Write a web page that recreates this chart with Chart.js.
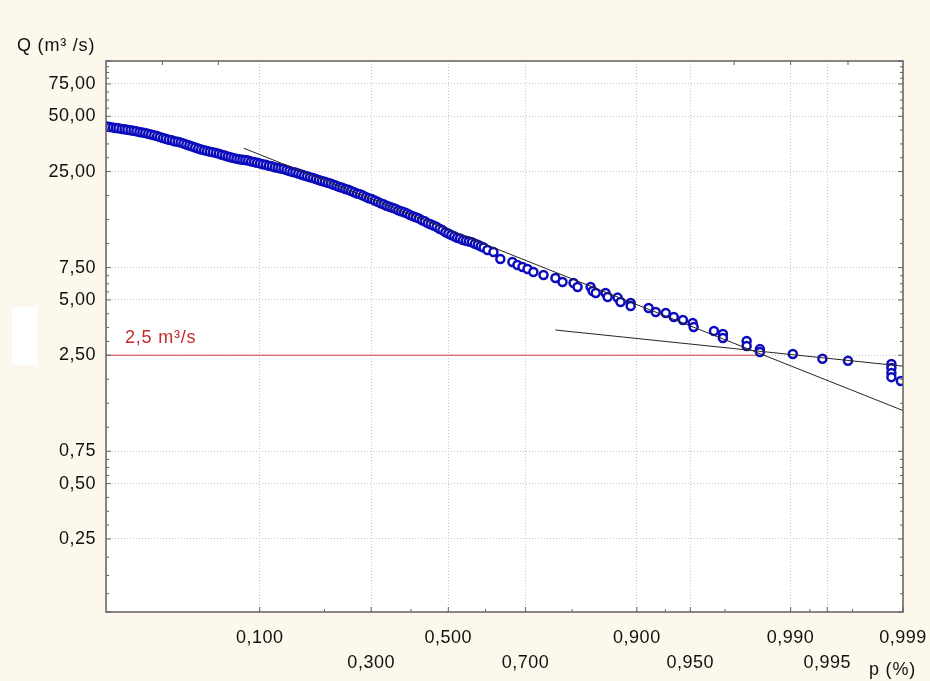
<!DOCTYPE html>
<html>
<head>
<meta charset="utf-8">
<script src="https://cdn.jsdelivr.net/npm/chart.js@4.4.1/dist/chart.umd.min.js"></script>
<style>
	html, body { margin: 0; padding: 0; background: #fcf8ec; }
	#wrap { position: relative; width: 930px; height: 681px; }
</style>
</head>
<body>
<div id="wrap"><canvas id="myChart"></canvas></div>
<script>
// exceedance probability p and discharge Q (m3/s)
const pObs = [
	0.0102, 0.0107, 0.0113, 0.0119, 0.0125, 0.0132, 0.0139, 0.0146, 0.0154, 0.0162,
	0.0170, 0.0179, 0.0188, 0.0197, 0.0207, 0.0217, 0.0228, 0.0239, 0.0250, 0.0262,
	0.0274, 0.0287, 0.0301, 0.0314, 0.0329, 0.0344, 0.0359, 0.0375, 0.0392, 0.0409,
	0.0427, 0.0446, 0.0465, 0.0485, 0.0505, 0.0526, 0.0548, 0.0571, 0.0594, 0.0618,
	0.0643, 0.0668, 0.0694, 0.0721, 0.0749, 0.0778, 0.0808, 0.0838, 0.0869, 0.0901,
	0.0934, 0.0968, 0.1003, 0.1038, 0.1075, 0.1112, 0.1151, 0.1190, 0.1230, 0.1271,
	0.1314, 0.1357, 0.1401, 0.1446, 0.1492, 0.1539, 0.1587, 0.1635, 0.1685, 0.1736,
	0.1788, 0.1841, 0.1894, 0.1949, 0.2005, 0.2061, 0.2119, 0.2177, 0.2236, 0.2296,
	0.2358, 0.2420, 0.2483, 0.2546, 0.2611, 0.2676, 0.2743, 0.2810, 0.2877, 0.2946,
	0.3015, 0.3085, 0.3156, 0.3228, 0.3300, 0.3372, 0.3446, 0.3520, 0.3594, 0.3669,
	0.3745, 0.3821, 0.3897, 0.3974, 0.4052, 0.4129, 0.4207, 0.4286, 0.4364, 0.4443,
	0.4522, 0.4602, 0.4681, 0.4761, 0.4840, 0.4920, 0.5000, 0.5080, 0.5160, 0.5239,
	0.5319, 0.5398, 0.5478, 0.5557, 0.5636, 0.5714, 0.5793, 0.5871, 0.5948, 0.6048,
	0.6205, 0.6382, 0.6684, 0.6807, 0.6929, 0.7048, 0.7185, 0.7412, 0.7667, 0.7812,
	0.8026, 0.8101, 0.8332, 0.8367, 0.8418, 0.8574, 0.8606, 0.8750, 0.8791, 0.8924,
	0.8924, 0.9133, 0.9207, 0.9303, 0.9373, 0.9446, 0.9516, 0.9523, 0.9645, 0.9690,
	0.9690, 0.9787, 0.9787, 0.9829, 0.9829, 0.9904, 0.9945, 0.9967, 0.9987, 0.9987,
	0.9987, 0.9987, 0.99895
];
const qObs = [
	44.0, 43.7, 43.5, 43.2, 43.0, 42.7, 42.5, 42.2, 42.0, 41.7,
	41.4, 41.1, 40.8, 40.5, 40.2, 39.8, 39.4, 39.0, 38.6, 38.1,
	37.7, 37.3, 37.0, 36.6, 36.3, 36.0, 35.6, 35.1, 34.7, 34.2,
	33.8, 33.4, 33.0, 32.7, 32.4, 32.1, 31.9, 31.6, 31.3, 30.9,
	30.6, 30.2, 29.9, 29.6, 29.4, 29.2, 29.0, 28.9, 28.7, 28.4,
	28.2, 27.9, 27.7, 27.4, 27.2, 26.9, 26.7, 26.4, 26.2, 26.0,
	25.8, 25.5, 25.2, 24.9, 24.7, 24.4, 24.1, 23.8, 23.6, 23.3,
	23.1, 22.8, 22.5, 22.2, 22.0, 21.7, 21.5, 21.2, 20.9, 20.6,
	20.4, 20.1, 19.9, 19.6, 19.3, 19.0, 18.8, 18.5, 18.2, 17.9,
	17.7, 17.4, 17.1, 16.8, 16.6, 16.3, 16.1, 15.9, 15.7, 15.4,
	15.2, 15.0, 14.8, 14.5, 14.3, 14.1, 13.9, 13.6, 13.4, 13.1,
	12.9, 12.7, 12.5, 12.2, 12.0, 11.7, 11.5, 11.3, 11.1, 10.9,
	10.8, 10.6, 10.5, 10.4, 10.3, 10.1, 10.0, 9.80, 9.65, 9.35,
	9.12, 8.36, 8.05, 7.75, 7.56, 7.37, 7.10, 6.84, 6.59, 6.26,
	6.18, 5.88, 5.88, 5.59, 5.46, 5.46, 5.19, 5.15, 4.87, 4.81,
	4.63, 4.52, 4.30, 4.25, 4.04, 3.89, 3.75, 3.56, 3.39, 3.26,
	3.10, 2.99, 2.81, 2.70, 2.60, 2.54, 2.39, 2.33, 2.24, 2.13,
	2.00, 1.90, 1.81
];

// fitted straight lines (on probability paper) and the 2,5 m3/s threshold
const fitUpperP = [0.0822, 0.999];
const fitUpperQ = [33.5, 1.25];
const fitLowerP = [0.7667, 0.999];
const fitLowerQ = [3.43, 2.18];
const limitP = [0.01, 0.9824];
const limitQ = [2.5, 2.5];

const xTickP = [0.1, 0.3, 0.5, 0.7, 0.9, 0.95, 0.99, 0.995, 0.999];
const xTickLabels = ["0,100", "0,300", "0,500", "0,700", "0,900", "0,950", "0,990", "0,995", "0,999"];
const xMinorP = [0.2, 0.4, 0.6, 0.8, 0.93, 0.97, 0.993, 0.997];
const xTopP = [0.026, 0.059, 0.974, 0.99, 0.9967];
const yTicks = [75, 50, 25, 7.5, 5, 2.5, 0.75, 0.5, 0.25];
const yTickLabels = ["75,00", "50,00", "25,00", "7,50", "5,00", "2,50", "0,75", "0,50", "0,25"];

// inverse normal cdf (Acklam)
function probit(p) {
	const a = [-39.69683028665376, 220.9460984245205, -275.9285104469687, 138.3577518672690, -30.66479806614716, 2.506628277459239];
	const b = [-54.47609879822406, 161.5858368580409, -155.6989798598866, 66.80131188771972, -13.28068155288572];
	const c = [-0.007784894002430293, -0.3223964580411365, -2.400758277161838, -2.549732539343734, 4.374664141464968, 2.938163982698783];
	const d = [0.007784695709041462, 0.3224671290700398, 2.445134137142996, 3.754408661907416];
	const lo = 0.02425;
	let q, r;
	if (p < lo) {
		q = Math.sqrt(-2 * Math.log(p));
		return (((((c[0] * q + c[1]) * q + c[2]) * q + c[3]) * q + c[4]) * q + c[5]) / ((((d[0] * q + d[1]) * q + d[2]) * q + d[3]) * q + 1);
	}
	if (p > 1 - lo) {
		q = Math.sqrt(-2 * Math.log(1 - p));
		return -(((((c[0] * q + c[1]) * q + c[2]) * q + c[3]) * q + c[4]) * q + c[5]) / ((((d[0] * q + d[1]) * q + d[2]) * q + d[3]) * q + 1);
	}
	q = p - 0.5;
	r = q * q;
	return ((((((a[0] * r + a[1]) * r + a[2]) * r + a[3]) * r + a[4]) * r + a[5]) * q) / (((((b[0] * r + b[1]) * r + b[2]) * r + b[3]) * r + b[4]) * r + 1);
}

function normCdf(z) {
	const t = 1 / (1 + 0.2316419 * Math.abs(z));
	const y = 0.3989423 * Math.exp((-z * z) / 2) * t * (0.3193815 + t * (-0.3565638 + t * (1.781478 + t * (-1.821256 + t * 1.330274))));
	return z > 0 ? 1 - y : y;
}

// normal probability axis
class ProbabilityScale extends Chart.LinearScale {
	static id = "probability";
	static defaults = {};
	buildTicks() {
		return [];
	}
	configure() {
		super.configure();
		this._startValue = probit(this.min);
		this._endValue = probit(this.max);
		this._valueRange = this._endValue - this._startValue;
	}
	getPixelForValue(value) {
		if (value === null || value === undefined) return NaN;
		return this.getPixelForDecimal((probit(value) - this._startValue) / this._valueRange);
	}
	getValueForPixel(pixel) {
		return normCdf(this._startValue + this.getDecimalForPixel(pixel) * this._valueRange);
	}
}
Chart.register(ProbabilityScale);

const FONT = '"Liberation Sans", Arial, sans-serif';

const decor = {
	id: "decor",
	beforeDraw(chart) {
		const { ctx, chartArea: a } = chart;
		ctx.save();
		ctx.fillStyle = "#ffffff";
		ctx.fillRect(a.left, a.top, a.right - a.left, a.bottom - a.top);
		ctx.fillRect(12, 307, 25, 58);
		ctx.restore();
		ctx.letterSpacing = "0.5px";
	},
	afterDraw(chart) {
		const { ctx, chartArea: a } = chart;
		const x = chart.scales.x;
		const y = chart.scales.y;
		ctx.save();
		ctx.strokeStyle = "#606060";
		ctx.lineWidth = 1;
		ctx.beginPath();
		// inward tick marks
		const yMajor = [100].concat(yTicks, [0.1]);
		for (let i = 0; i < yMajor.length; i++) {
			const py = y.getPixelForValue(yMajor[i]);
			ctx.moveTo(a.left, py);
			ctx.lineTo(a.left + 5, py);
			ctx.moveTo(a.right, py);
			ctx.lineTo(a.right - 5, py);
			if (i < yMajor.length - 1) {
				const ny = y.getPixelForValue(yMajor[i + 1]);
				for (let k = 1; k < 4; k++) {
					const my = py + ((ny - py) * k) / 4;
					ctx.moveTo(a.left, my);
					ctx.lineTo(a.left + 3, my);
					ctx.moveTo(a.right, my);
					ctx.lineTo(a.right - 3, my);
				}
			}
		}
		xTickP.forEach(function (p) {
			const px = x.getPixelForValue(p);
			ctx.moveTo(px, a.bottom);
			ctx.lineTo(px, a.bottom - 5);
		});
		xMinorP.forEach(function (p) {
			const px = x.getPixelForValue(p);
			ctx.moveTo(px, a.bottom);
			ctx.lineTo(px, a.bottom - 3);
		});
		xTopP.forEach(function (p) {
			const px = x.getPixelForValue(p);
			ctx.moveTo(px, a.top);
			ctx.lineTo(px, a.top + 4);
		});
		ctx.stroke();
		// frame
		ctx.lineWidth = 1.5;
		ctx.strokeRect(a.left, a.top, a.right - a.left, a.bottom - a.top);
		// texts
		ctx.letterSpacing = "0.8px";
		ctx.textAlign = "left";
		ctx.textBaseline = "alphabetic";
		ctx.font = "18px " + FONT;
		ctx.fillStyle = "#111111";
		ctx.fillText("Q (m\u00b3 /s)", 17, 51);
		ctx.fillText("p (%)", 869, 675);
		ctx.fillStyle = "#c4282a";
		ctx.fillText("2,5 m\u00b3/s", a.left + 19, y.getPixelForValue(2.5) - 12);
		ctx.restore();
		ctx.letterSpacing = "0px";
	},
};

function pairs(ps, qs) {
	return ps.map(function (p, i) {
		return { x: p, y: qs[i] };
	});
}

window.addEventListener(
	"load",
	function () {
		const config = {
			type: "scatter",
			data: {
				datasets: [
					{
						type: "line",
						label: "fit 1",
						data: pairs(fitUpperP, fitUpperQ),
						borderColor: "#262626",
						borderWidth: 1,
						pointRadius: 0,
						order: 1,
					},
					{
						type: "line",
						label: "fit 2",
						data: pairs(fitLowerP, fitLowerQ),
						borderColor: "#262626",
						borderWidth: 1,
						pointRadius: 0,
						order: 1,
					},
					{
						label: "Q",
						data: pairs(pObs, qObs),
						borderColor: "#0c0cbc",
						backgroundColor: "#ffffff",
						borderWidth: 2.5,
						pointRadius: 4,
						order: 2,
					},
					{
						type: "line",
						label: "2,5 m3/s",
						data: pairs(limitP, limitQ),
						borderColor: "#d03a3a",
						borderWidth: 1,
						pointRadius: 0,
						order: 3,
					},
				],
			},
			options: {
				responsive: true,
				maintainAspectRatio: false,
				animation: false,
				events: [],
				layout: {
					padding: { top: 61, right: 27, left: 0, bottom: 0 },
				},
				plugins: {
					legend: { display: false },
					tooltip: { enabled: false },
				},
				scales: {
					x: {
						type: "probability",
						min: 0.01,
						max: 0.999,
						afterBuildTicks: function (scale) {
							scale.ticks = xTickP.map(function (p) {
								return { value: p };
							});
						},
						afterFit: function (scale) {
							scale.height = 69;
							scale.paddingLeft = 0;
							scale.paddingRight = 0;
						},
						grid: { color: "#c6c6c6", lineWidth: 1, drawTicks: false },
						border: { display: false, dash: [1, 2] },
						ticks: {
							autoSkip: false,
							maxRotation: 0,
							minRotation: 0,
							padding: 13,
							color: "#111111",
							font: { family: FONT, size: 18, lineHeight: 1.4 },
							callback: function (value, index) {
								return index % 2 === 0 ? [xTickLabels[index]] : ["", xTickLabels[index]];
							},
						},
					},
					y: {
						type: "logarithmic",
						min: 0.1,
						max: 100,
						afterBuildTicks: function (scale) {
							scale.ticks = yTicks.map(function (v) {
								return { value: v };
							});
						},
						afterFit: function (scale) {
							scale.width = 106;
							scale.paddingTop = 0;
							scale.paddingBottom = 0;
						},
						grid: { color: "#c6c6c6", lineWidth: 1, drawTicks: false },
						border: { display: false, dash: [1, 2] },
						ticks: {
							autoSkip: false,
							padding: 10,
							color: "#111111",
							font: { family: FONT, size: 18 },
							callback: function (value) {
								return yTickLabels[yTicks.indexOf(value)];
							},
						},
					},
				},
			},
			plugins: [decor],
		};

		const myChart = new Chart(document.getElementById("myChart"), config);
	},
	false
);
</script>
</body>
</html>
